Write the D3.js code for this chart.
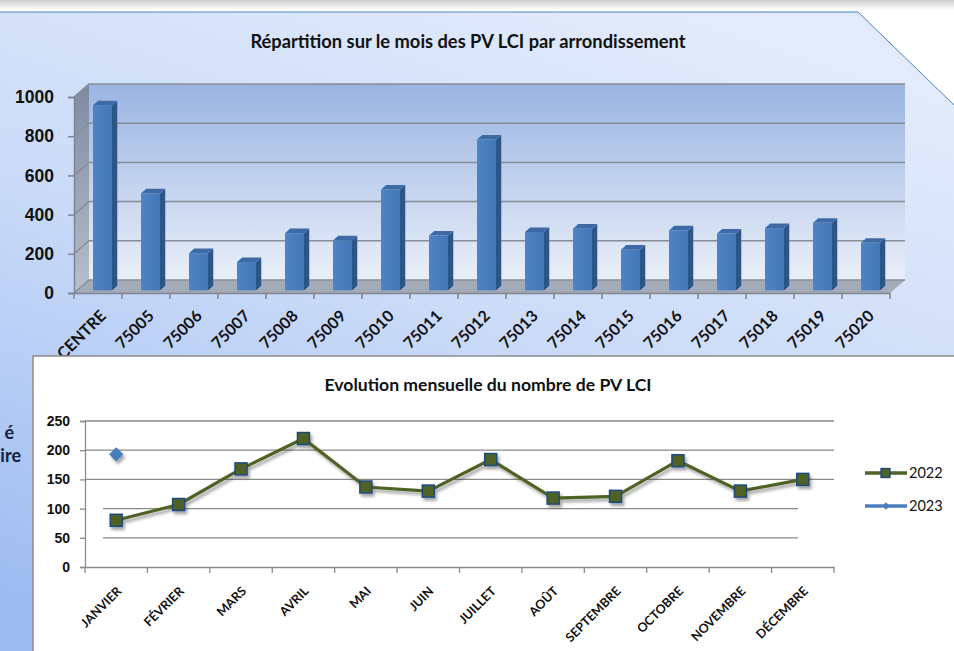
<!DOCTYPE html>
<html>
<head>
<meta charset="utf-8">
<script src="https://cdn.jsdelivr.net/npm/d3@7"></script>
<style>
  html, body { margin: 0; padding: 0; background: #fff; }
  svg { display: block; font-family: Lato, "Open Sans", sans-serif; }
</style>
</head>
<body>
<svg id="chart" width="954" height="651"></svg>
<script>
// ---- data ----
const districts = ["CENTRE", "75005", "75006", "75007", "75008", "75009", "75010", "75011", "75012",
  "75013", "75014", "75015", "75016", "75017", "75018", "75019", "75020"];
const pvByDistrict = [945, 495, 190, 145, 292, 255, 515, 280, 770, 298, 315, 208, 306, 290, 318, 345, 243];
const districtTicks = [0, 200, 400, 600, 800, 1000];

const months = ["JANVIER", "FÉVRIER", "MARS", "AVRIL", "MAI", "JUIN", "JUILLET", "AOÛT",
  "SEPTEMBRE", "OCTOBRE", "NOVEMBRE", "DÉCEMBRE"];
const pv2022 = [80, 107, 168, 220, 137, 130, 184, 118, 121, 182, 130, 150];
const pv2023 = [193];
const monthTicks = [0, 50, 100, 150, 200, 250];
const seriesNames = ["2022", "2023"];

const svg = d3.select("#chart");
const defs = svg.append("defs");

// background gradient of the slide panel
const bg = defs.append("linearGradient").attr("id", "bg")
  .attr("x1", "0.7").attr("y1", "0").attr("x2", "0.2").attr("y2", "1");
bg.append("stop").attr("offset", "0").attr("stop-color", "#e2ebfb");
bg.append("stop").attr("offset", "0.5").attr("stop-color", "#c9daf8");
bg.append("stop").attr("offset", "1").attr("stop-color", "#9ebcf1");

const wall = defs.append("linearGradient").attr("id", "wall")
  .attr("x1", 0).attr("y1", 0).attr("x2", 0).attr("y2", 1);
wall.append("stop").attr("offset", "0").attr("stop-color", "#9ab4e2");
wall.append("stop").attr("offset", "1").attr("stop-color", "#e9eff9");

const side = defs.append("linearGradient").attr("id", "side")
  .attr("x1", 0).attr("y1", 0).attr("x2", 0).attr("y2", 1);
side.append("stop").attr("offset", "0").attr("stop-color", "#7d8aa3");
side.append("stop").attr("offset", "1").attr("stop-color", "#b8bfcc");

const barFront = defs.append("linearGradient").attr("id", "barFront")
  .attr("x1", 0).attr("y1", 0).attr("x2", 1).attr("y2", 0);
barFront.append("stop").attr("offset", "0").attr("stop-color", "#4f83c2");
barFront.append("stop").attr("offset", "1").attr("stop-color", "#4377b6");

const shadow = defs.append("filter").attr("id", "shadow")
  .attr("x", "-10%").attr("y", "-10%").attr("width", "130%").attr("height", "140%");
shadow.append("feDropShadow").attr("dx", 2).attr("dy", 3).attr("stdDeviation", 1.5)
  .attr("flood-color", "#000").attr("flood-opacity", 0.35);

// top grey strip + panel with cut corner
const topStrip = defs.append("linearGradient").attr("id", "topStrip")
  .attr("x1", 0).attr("y1", 0).attr("x2", 0).attr("y2", 1);
topStrip.append("stop").attr("offset", "0").attr("stop-color", "#cfcfcf");
topStrip.append("stop").attr("offset", "1").attr("stop-color", "#ffffff");
svg.append("rect").attr("x", 0).attr("y", 0).attr("width", 954).attr("height", 10).attr("fill", "url(#topStrip)");

svg.append("path")
  .attr("d", "M0,12 L858,12 L954,105 L954,651 L0,651 Z")
  .attr("fill", "url(#bg)");
svg.append("path")
  .attr("d", "M0,12 L858,12 L954,105")
  .attr("fill", "none").attr("stroke", "#4f81bd").attr("stroke-width", 1);

// ================= top chart: 3D columns =================
const depthX = 15, depthY = -13;
const x = d3.scaleBand().domain(districts).range([74, 890]).padding(0);
const y = d3.scaleLinear().domain([0, 1000]).range([293, 97]);
const x0 = x.range()[0], x1 = x.range()[1];

const topChart = svg.append("g");

topChart.append("text")
  .attr("x", 468).attr("y", 48)
  .attr("text-anchor", "middle")
  .attr("font-size", 18.3).attr("font-weight", "bold").attr("fill", "#111")
  .text("Répartition sur le mois des PV LCI par arrondissement");

// back wall
topChart.append("rect")
  .attr("x", x0 + depthX).attr("y", y(1000) + depthY)
  .attr("width", x1 - x0).attr("height", y(0) - y(1000))
  .attr("fill", "url(#wall)");
// left wall
topChart.append("path")
  .attr("d", `M${x0},${y(1000)} L${x0 + depthX},${y(1000) + depthY} L${x0 + depthX},${y(0) + depthY} L${x0},${y(0)} Z`)
  .attr("fill", "url(#side)");
// floor
topChart.append("path")
  .attr("d", `M${x0},${y(0)} L${x0 + depthX},${y(0) + depthY} L${x1 + depthX},${y(0) + depthY} L${x1},${y(0)} Z`)
  .attr("fill", "#a3abb8");

// gridlines on walls
const grid = topChart.append("g").attr("stroke", "#878d97").attr("stroke-width", 1.5).attr("fill", "none");
districtTicks.forEach(v => {
  grid.append("path")
    .attr("d", `M${x0},${y(v)} L${x0 + depthX},${y(v) + depthY} L${x1 + depthX},${y(v) + depthY}`);
});

// bars
const bf = 0.2, bb = 0.55; // depth fraction of bar front/back faces
const barW = 19, barOff = 16;
const bars = topChart.append("g");
districts.forEach((d, i) => {
  const v = pvByDistrict[i];
  const fx = x(d) + barOff + bf * depthX;
  const fyTop = y(v) + bf * depthY, fyBot = y(0) + bf * depthY;
  const ddx = (bb - bf) * depthX, ddy = (bb - bf) * depthY;
  bars.append("path") // side
    .attr("d", `M${fx + barW},${fyTop} L${fx + barW + ddx},${fyTop + ddy} L${fx + barW + ddx},${fyBot + ddy} L${fx + barW},${fyBot} Z`)
    .attr("fill", "#2e5587");
  bars.append("path") // top
    .attr("d", `M${fx},${fyTop} L${fx + ddx},${fyTop + ddy} L${fx + barW + ddx},${fyTop + ddy} L${fx + barW},${fyTop} Z`)
    .attr("fill", "#3c6aa6");
  bars.append("rect") // front
    .attr("x", fx).attr("y", fyTop).attr("width", barW).attr("height", fyBot - fyTop)
    .attr("fill", "url(#barFront)");
});

// axes
const yAxis = topChart.append("g").attr("transform", `translate(${x0},0)`)
  .call(d3.axisLeft(y).tickValues(districtTicks).tickFormat(d3.format("d")).tickSize(6).tickPadding(14));
yAxis.select(".domain").attr("stroke", "#7f8590").attr("stroke-width", 1.5);
yAxis.selectAll(".tick line").attr("stroke", "#7f8590").attr("stroke-width", 1.5);
yAxis.selectAll("text").attr("font-size", 17.5).attr("font-weight", "bold").attr("fill", "#111");

const xAxis = topChart.append("g").attr("transform", `translate(0,${y(0)})`)
  .call(d3.axisBottom(x).tickSize(0).tickFormat(""));
xAxis.select(".domain").attr("stroke", "#7f8590").attr("stroke-width", 1.5);
topChart.append("g").selectAll("line")
  .data(districts.concat(["_end"]))
  .join("line")
  .attr("x1", (d, i) => x0 + i * x.step()).attr("x2", (d, i) => x0 + i * x.step())
  .attr("y1", y(0)).attr("y2", y(0) + 6)
  .attr("stroke", "#7f8590").attr("stroke-width", 1.5);

topChart.append("g").selectAll("text")
  .data(districts)
  .join("text")
  .attr("transform", d => `translate(${x(d) + x.bandwidth() / 2 + 9},${y(0) + 24}) rotate(-45)`)
  .attr("text-anchor", "end")
  .attr("font-size", 16).attr("font-weight", "bold").attr("fill", "#111")
  .text(d => d);

// left cut-off text behind the lower chart
svg.append("text").attr("x", 14).attr("y", 439).attr("text-anchor", "end")
  .attr("font-size", 18).attr("font-weight", "bold").attr("fill", "#14213d").text("é");
svg.append("text").attr("x", 21).attr("y", 462).attr("text-anchor", "end")
  .attr("font-size", 18).attr("font-weight", "bold").attr("fill", "#14213d").text("ire");

// ================= bottom chart: monthly lines =================
const bottomChart = svg.append("g");
bottomChart.append("rect")
  .attr("x", 33).attr("y", 356).attr("width", 940).attr("height", 320)
  .attr("fill", "#fff").attr("stroke", "#8c8c8c").attr("stroke-width", 1.5);

bottomChart.append("text")
  .attr("x", 488).attr("y", 391)
  .attr("text-anchor", "middle")
  .attr("font-size", 17.6).attr("font-weight", "bold").attr("fill", "#111")
  .text("Evolution mensuelle du nombre de PV LCI");

const mx = d3.scaleBand().domain(months).range([85, 834]).padding(0);
const my = d3.scaleLinear().domain([0, 250]).range([567, 421]);
const cx = m => mx(m) + mx.bandwidth() / 2;

// gridlines (the 50/100 lines are drawn slightly shorter, as in the source)
bottomChart.append("g").selectAll("line")
  .data(monthTicks.filter(v => v > 0))
  .join("line")
  .attr("x1", v => v <= 100 ? 103 : 85).attr("x2", v => v <= 100 ? 798 : 834)
  .attr("y1", v => my(v)).attr("y2", v => my(v))
  .attr("stroke", "#8a8a8a").attr("stroke-width", 1.3);

const myAxis = bottomChart.append("g").attr("transform", "translate(85,0)")
  .call(d3.axisLeft(my).tickValues(monthTicks).tickSize(5).tickPadding(10));
myAxis.select(".domain").attr("stroke", "#8a8a8a").attr("stroke-width", 1.3);
myAxis.selectAll(".tick line").attr("stroke", "#8a8a8a").attr("stroke-width", 1.3);
myAxis.selectAll("text").attr("font-size", 14).attr("font-weight", "bold").attr("fill", "#111");

const mxAxis = bottomChart.append("g").attr("transform", "translate(0,567)")
  .call(d3.axisBottom(mx).tickSize(0).tickFormat(""));
mxAxis.select(".domain").attr("stroke", "#8a8a8a").attr("stroke-width", 1.3);
bottomChart.append("g").selectAll("line")
  .data(months.concat(["_end"]))
  .join("line")
  .attr("x1", (d, i) => 85 + i * mx.step()).attr("x2", (d, i) => 85 + i * mx.step())
  .attr("y1", 567).attr("y2", 573)
  .attr("stroke", "#8a8a8a").attr("stroke-width", 1.3);

bottomChart.append("g").selectAll("text")
  .data(months)
  .join("text")
  .attr("transform", d => `translate(${cx(d) + 6},${592}) rotate(-45)`)
  .attr("text-anchor", "end")
  .attr("font-size", 12.5).attr("font-weight", "bold").attr("fill", "#111")
  .text(d => d);

const lineColor = "#4f6228", markerEdge = "#1f497d", c2023 = "#4a7ebb";
const line = d3.line().x((d, i) => cx(months[i])).y(d => my(d));

const series = bottomChart.append("g").attr("filter", "url(#shadow)");
series.append("path")
  .attr("d", line(pv2022))
  .attr("fill", "none").attr("stroke", lineColor).attr("stroke-width", 3.2)
  .attr("stroke-linejoin", "round");
series.selectAll("rect.m22")
  .data(pv2022)
  .join("rect").attr("class", "m22")
  .attr("x", (d, i) => cx(months[i]) - 6).attr("y", d => my(d) - 6)
  .attr("width", 12).attr("height", 12)
  .attr("fill", lineColor).attr("stroke", markerEdge).attr("stroke-width", 1.5);
series.selectAll("path.m23")
  .data(pv2023)
  .join("path").attr("class", "m23")
  .attr("d", d3.symbol(d3.symbolDiamond2, 130))
  .attr("transform", (d, i) => `translate(${cx(months[i])},${my(d)})`)
  .attr("fill", c2023);

// legend
const legend = bottomChart.append("g");
seriesNames.forEach((name, i) => {
  const ly = 473 + i * 33;
  const col = i === 0 ? lineColor : c2023;
  legend.append("line").attr("x1", 865).attr("x2", 907).attr("y1", ly).attr("y2", ly)
    .attr("stroke", col).attr("stroke-width", 3.3);
  if (i === 0) {
    legend.append("rect").attr("x", 881).attr("y", ly - 4.5).attr("width", 9).attr("height", 9)
      .attr("fill", lineColor).attr("stroke", markerEdge).attr("stroke-width", 1.3);
  } else {
    legend.append("path").attr("d", d3.symbol(d3.symbolDiamond2, 36))
      .attr("transform", `translate(886,${ly})`).attr("fill", c2023);
  }
  legend.append("text").attr("x", 909).attr("y", ly).attr("dy", "0.36em")
    .attr("font-size", 14.5).attr("fill", "#111").text(name);
});
</script>
</body>
</html>
